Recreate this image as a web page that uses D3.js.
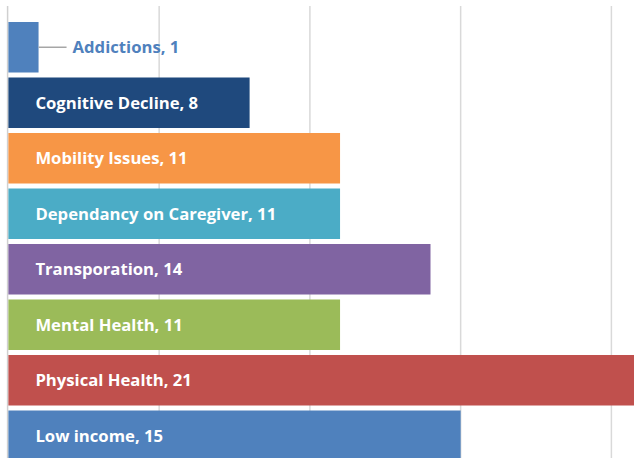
<!DOCTYPE html>
<html lang="en">
<head>
	<meta charset="utf-8">
	<title>challenges bar chart</title>
	<script src="https://d3js.org/d3.v7.min.js"></script>
	<style type="text/css">
		body { margin: 0; background: #fff; }
		svg { display: block; }
		.label { font-family: "Open Sans", Lato, sans-serif; font-weight: bold; }
	</style>
</head>
<body>
	<svg id="chart-svg"></svg>
	<script type="text/javascript">
		// data, top to bottom
		let categories = ['Addictions', 'Cognitive Decline', 'Mobility Issues', 'Dependancy on Caregiver',
			'Transporation', 'Mental Health', 'Physical Health', 'Low income']
		let counts = [1, 8, 11, 11, 14, 11, 21, 15]
		let colors = ['#4f81bd', '#1f497d', '#f79646', '#4bacc6', '#8064a2', '#9bbb59', '#c0504d', '#4f81bd']
		let gridTicks = [0, 5, 10, 15, 20]

		let w = 634
		let h = 458

		let svg = d3.select('#chart-svg')
			.attr('width', w)
			.attr('height', h)

		// 0 sits at x=8.4, one unit is ~30.15px; the chart is cropped on the right
		let xScale = d3.scaleLinear()
			.domain([0, 21])
			.range([8.4, 8.4 + 21 * 30.15])

		let yScale = d3.scaleBand()
			.domain(categories)
			.range([19.5, 19.5 + 55.5 * categories.length])
			.paddingInner(0.09)
			.paddingOuter(0.045)

		// gridlines
		svg.append('g')
			.selectAll('line')
			.data(gridTicks.slice(1))
			.enter()
			.append('line')
			.attr('x1', d => xScale(d))
			.attr('x2', d => xScale(d))
			.attr('y1', 6)
			.attr('y2', h)
			.attr('stroke', '#d9d9d9')
			.attr('stroke-width', 1.5)

		// category axis line
		svg.append('line')
			.attr('x1', xScale(0) - 0.8)
			.attr('x2', xScale(0) - 0.8)
			.attr('y1', 6)
			.attr('y2', h)
			.attr('stroke', '#d0d0d0')
			.attr('stroke-width', 1.5)

		let rows = categories.map((c, i) => ({ name: c, value: counts[i], color: colors[i] }))

		svg.append('g')
			.selectAll('rect')
			.data(rows)
			.enter()
			.append('rect')
			.attr('x', xScale(0))
			.attr('y', d => yScale(d.name))
			.attr('width', d => xScale(d.value) - xScale(0))
			.attr('height', yScale.bandwidth())
			.attr('fill', d => d.color)

		// pick a font size so the longest label is about as wide as in the original (~241px)
		let probe = svg.append('text').attr('class', 'label').attr('font-size', 16)
			.text('Dependancy on Caregiver, 11')
		let fontSize = 16 * 241 / probe.node().getComputedTextLength()
		probe.remove()

		// labels: inside in white, except the tiny bar which gets a leader line
		let labels = svg.append('g')
		rows.forEach(function(d) {
			let cy = yScale(d.name) + yScale.bandwidth() / 2
			let inside = xScale(d.value) - xScale(0) > 150
			if (!inside) {
				labels.append('line')
					.attr('x1', xScale(d.value))
					.attr('x2', xScale(d.value) + 28)
					.attr('y1', cy)
					.attr('y2', cy)
					.attr('stroke', '#a6a6a6')
					.attr('stroke-width', 1.5)
			}
			labels.append('text')
				.attr('class', 'label')
				.attr('x', inside ? xScale(0) + 27 : xScale(d.value) + 34)
				.attr('y', cy)
				.attr('dy', '0.35em')
				.attr('font-size', fontSize)
				.attr('fill', inside ? '#ffffff' : d.color)
				.text(d.name + ', ' + d.value)
		})
	</script>
</body>
</html>
